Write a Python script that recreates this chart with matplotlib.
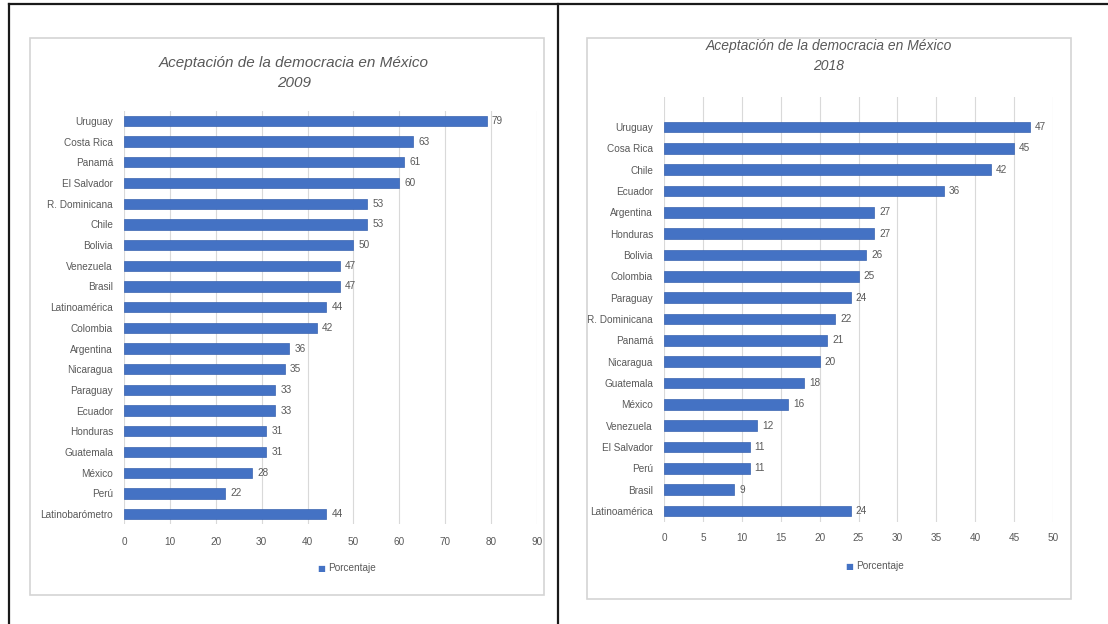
import matplotlib.pyplot as plt
from matplotlib.patches import Rectangle
from matplotlib.lines import Line2D

# 2009 data (top to bottom)
paises_2009 = ["Uruguay", "Costa Rica", "Panamá", "El Salvador", "R. Dominicana", "Chile",
               "Bolivia", "Venezuela", "Brasil", "Latinoamérica", "Colombia", "Argentina",
               "Nicaragua", "Paraguay", "Ecuador", "Honduras", "Guatemala", "México", "Perú",
               "Latinobarómetro"]
valores_2009 = [79, 63, 61, 60, 53, 53, 50, 47, 47, 44, 42, 36, 35, 33, 33, 31, 31, 28, 22, 44]
ticks_2009 = [0, 10, 20, 30, 40, 50, 60, 70, 80, 90]

# 2018 data (top to bottom)
paises_2018 = ["Uruguay", "Cosa Rica", "Chile", "Ecuador", "Argentina", "Honduras", "Bolivia",
               "Colombia", "Paraguay", "R. Dominicana", "Panamá", "Nicaragua", "Guatemala",
               "México", "Venezuela", "El Salvador", "Perú", "Brasil", "Latinoamérica"]
valores_2018 = [47, 45, 42, 36, 27, 27, 26, 25, 24, 22, 21, 20, 18, 16, 12, 11, 11, 9, 24]
ticks_2018 = [0, 5, 10, 15, 20, 25, 30, 35, 40, 45, 50]

titulo = "Aceptación de la democracia en México"
azul = "#4472C4"
gris = "#595959"
fuente = ["Liberation Sans", "DejaVu Sans"]
fs = 7.2

W, H = 1108, 624
fig = plt.figure(figsize=(W / 100, H / 100), dpi=100)


def fx(px):
    return px / W


def fy(py):
    return 1 - py / H


def panel(x0, x1, y_top, y_bot, paises, valores, ticks, xmax, ytop_extra, year,
          title_x, title_y, title_size, frame, legend_y, xpad):
    ax = fig.add_axes([fx(x0), fy(y_bot), fx(x1 - x0), (y_bot - y_top) / H])
    n = len(paises)
    pos = list(range(n))[::-1]
    ax.barh(pos, valores, height=0.5, color=azul, edgecolor="#3a64b0", linewidth=0.5, zorder=3)
    for p, v in zip(pos, valores):
        ax.text(v + xmax * 0.013, p, str(v), va="center", ha="left", fontsize=fs,
                color=gris, family=fuente)
    ax.set_yticks(pos)
    ax.set_yticklabels(paises, fontsize=fs, color=gris, family=fuente)
    ax.set_xticks(ticks)
    ax.set_xticklabels([str(t) for t in ticks], fontsize=fs, color=gris, family=fuente)
    ax.set_xlim(0, xmax)
    ax.set_ylim(-0.5, n - 0.5 + ytop_extra)
    ax.tick_params(axis="y", length=0, pad=8)
    ax.tick_params(axis="x", length=0, pad=xpad)
    ax.grid(axis="x", color="#d9d9d9", linewidth=0.8, zorder=0)
    for s in ax.spines.values():
        s.set_visible(False)
    fig.text(fx(title_x), fy(title_y), titulo + "\n" + year, ha="center", va="center",
             fontsize=title_size, style="italic", color=gris, family="Liberation Sans",
             linespacing=1.6)
    fig.patches.append(Rectangle((fx(frame[0]), fy(frame[3])), fx(frame[1] - frame[0]),
                                 (frame[3] - frame[2]) / H, transform=fig.transFigure,
                                 fill=False, edgecolor="#d4d4d4", linewidth=1.2))
    lx = (x0 + x1) / 2 - 5
    fig.text(fx(lx), fy(legend_y), "■", ha="right", va="center", fontsize=6, color=azul,
             family="DejaVu Sans")
    fig.text(fx(lx + 3), fy(legend_y), "Porcentaje", ha="left", va="center", fontsize=fs,
             color=gris, family=fuente)
    return ax


panel(124, 537, 110.6, 524.4, paises_2009, valores_2009, ticks_2009, 90, 0.0, "2009",
      294, 73, 11, (30, 544, 38, 595), 568, 9)
panel(664, 1053, 97, 521.7, paises_2018, valores_2018, ticks_2018, 50, 0.9, "2018",
      829, 56, 10, (587, 1071, 38, 599), 566, 8)

# black frame lines of the screenshot
for line in [((fx(9), fx(9)), (fy(4), 0)), ((fx(558), fx(558)), (fy(4), 0)),
             ((fx(9), 1), (fy(4), fy(4)))]:
    fig.lines.append(Line2D(line[0], line[1], transform=fig.transFigure, color="#1a1a1a",
                            linewidth=1.6))

fig.savefig("out.png", dpi=100)
